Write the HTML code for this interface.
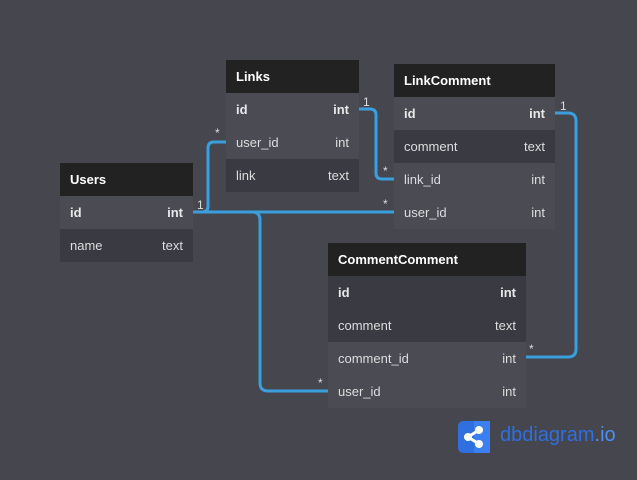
<!DOCTYPE html>
<html><head><meta charset="utf-8"><style>
body{margin:0;width:637px;height:480px;background:#45464e;position:relative;overflow:hidden;font-family:"Liberation Sans",sans-serif;}
.t{position:absolute;}
.h{height:33px;background:#222223;color:#fff;font-weight:bold;font-size:13px;line-height:33px;padding-left:10px;box-sizing:border-box;}
.r{height:33px;font-size:13px;line-height:33px;color:#ddd;display:flex;justify-content:space-between;padding:0 10px;box-sizing:border-box;}
.l{background:#4a4b53}.d{background:#393a42}
.b{font-weight:bold;color:#e8e8e8}
svg{position:absolute;left:0;top:0}
.m{position:absolute;font-size:12px;color:#ddd;font-family:"Liberation Sans",sans-serif}
</style></head><body>
<svg width="637" height="480"><g fill="none" stroke="#3a9fdc" stroke-width="3">
<path d="M193 212 H202 Q208 212 208 206 V148 Q208 142 214 142 H226"/>
<path d="M193 212 H394"/>
<path d="M193 212 H252 Q260 212 260 220 V383 Q260 391 268 391 H328"/>
<path d="M359 109 H370 Q376 109 376 115 V173 Q376 179 382 179 H394"/>
<path d="M555 113 H568 Q576 113 576 121 V349 Q576 357 568 357 H526"/>
</g></svg>
<div class="t" style="left:60px;top:163px;width:133px">
<div class="h">Users</div>
<div class="r l b"><span>id</span><span>int</span></div>
<div class="r d"><span>name</span><span>text</span></div>
</div>
<div class="t" style="left:226px;top:60px;width:133px">
<div class="h">Links</div>
<div class="r l b"><span>id</span><span>int</span></div>
<div class="r l"><span>user_id</span><span>int</span></div>
<div class="r d"><span>link</span><span>text</span></div>
</div>
<div class="t" style="left:394px;top:64px;width:161px">
<div class="h">LinkComment</div>
<div class="r l b"><span>id</span><span>int</span></div>
<div class="r d"><span>comment</span><span>text</span></div>
<div class="r l"><span>link_id</span><span>int</span></div>
<div class="r l"><span>user_id</span><span>int</span></div>
</div>
<div class="t" style="left:328px;top:243px;width:198px">
<div class="h">CommentComment</div>
<div class="r d b"><span>id</span><span>int</span></div>
<div class="r d"><span>comment</span><span>text</span></div>
<div class="r l"><span>comment_id</span><span>int</span></div>
<div class="r l"><span>user_id</span><span>int</span></div>
</div>
<div class="m" style="left:197px;top:198px">1</div>
<div class="m" style="left:215px;top:126px">*</div>
<div class="m" style="left:383px;top:197px">*</div>
<div class="m" style="left:318px;top:376px">*</div>
<div class="m" style="left:363px;top:95px">1</div>
<div class="m" style="left:383px;top:164px">*</div>
<div class="m" style="left:560px;top:99px">1</div>
<div class="m" style="left:529px;top:342px">*</div>
<svg style="left:458px;top:421px" width="32" height="32" viewBox="0 0 32 32">
<rect width="32" height="32" rx="5" fill="#2f6fe0"/>
<rect x="16" width="16" height="32" fill="#3b7ff0"/>
<g stroke="#fff" stroke-width="3"><line x1="10" y1="16" x2="21" y2="9"/><line x1="10" y1="16" x2="21" y2="23"/></g>
<circle cx="10" cy="16" r="4" fill="#fff"/><circle cx="21" cy="9" r="4" fill="#fff"/><circle cx="21" cy="23" r="4" fill="#fff"/>
</svg>
<div style="position:absolute;left:500px;top:424px;font-size:20px;color:#2f6fe0;font-family:'Liberation Sans',sans-serif;">dbdiagram<span style="color:#4a8ff5">.io</span></div>
</body></html>
